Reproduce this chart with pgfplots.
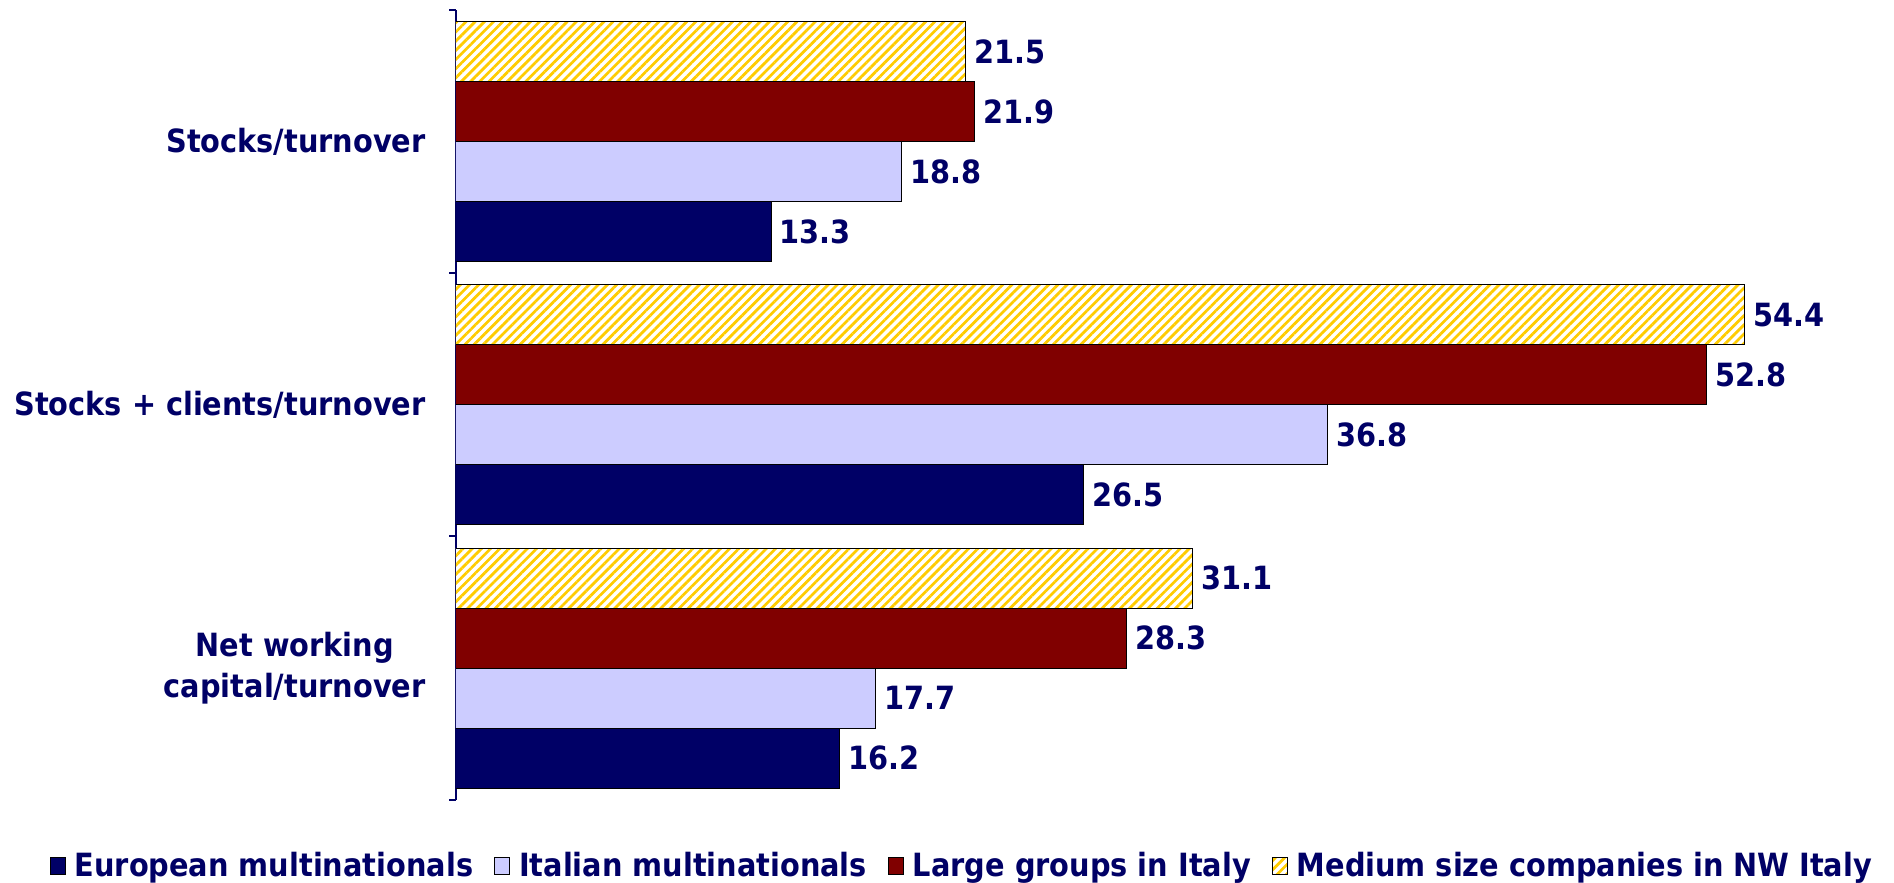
\documentclass[border=0pt]{standalone}
\usepackage{fontspec}
\setmainfont{DejaVu Sans Condensed}
\usepackage{pgfplots}
\pgfplotsset{compat=1.18}
\usetikzlibrary{patterns.meta}
\definecolor{navyc}{RGB}{0,0,102}
\definecolor{lavc}{RGB}{204,204,255}
\definecolor{redc}{RGB}{128,0,0}
\definecolor{yelc}{RGB}{255,204,0}
\definecolor{txtc}{RGB}{0,0,102}
\begin{document}
\begin{tikzpicture}
\useasboundingbox (-182.4pt,-33.3pt) rectangle (575.2pt,319.9pt);
\begin{axis}[
  at={(0,0)}, anchor=south west,
  scale only axis, width=568.6pt, height=316pt,
  xbar, bar width=24pt,
  xmin=0, xmax=60, ymin=-0.5, ymax=2.5,
  axis x line=none, axis y line=left,
  axis line style={-, draw=navyc, line width=0.8pt},
  ytick={-0.5,0.5,1.5,2.5},
  y tick label as interval,
  yticklabels={{Net working\\capital/turnover},{Stocks + clients/turnover},{Stocks/turnover}},
  yticklabel style={align=center, font=\fontsize{12.8}{16.4}\selectfont\bfseries, text=txtc, xshift=-6pt},
  tick align=outside, major tick length=2.6pt,
  ytick style={draw=navyc, line width=0.8pt},
  /pgf/number format/assume math mode=true,
  nodes near coords={\pgfmathprintnumber[fixed,fixed zerofill,precision=1]{\pgfplotspointmeta}},
  nodes near coords style={font=\fontsize{12.8}{15}\selectfont\bfseries, text=txtc, anchor=west},
  every axis plot/.append style={draw=black, line width=0.4pt},
  area legend,
  legend columns=4,
  legend style={at={(0.357,-0.084)}, anchor=center, draw=none, font=\fontsize{12.8}{15}\selectfont\bfseries, text=txtc,
    /tikz/every odd column/.append style={column sep=1.5pt},
    /tikz/every even column/.append style={column sep=6.5pt}},
  legend image code/.code={\draw[#1] (0pt,-3.2pt) rectangle (6pt,3.6pt);},
]
\addplot[fill=navyc, bar shift=-36pt] coordinates {(16.2,0) (26.5,1) (13.3,2)};
\addplot[fill=lavc, bar shift=-12pt] coordinates {(17.7,0) (36.8,1) (18.8,2)};
\addplot[fill=redc, bar shift=12pt] coordinates {(28.3,0) (52.8,1) (21.9,2)};
\addplot[fill=white, postaction={pattern={Lines[angle=45,distance=2.6pt,line width=1.1pt]}, pattern color=yelc}, bar shift=36pt] coordinates {(31.1,0) (54.4,1) (21.5,2)};
\legend{European multinationals, Italian multinationals, Large groups in Italy, Medium size companies in NW Italy}
\end{axis}
\end{tikzpicture}
\end{document}
